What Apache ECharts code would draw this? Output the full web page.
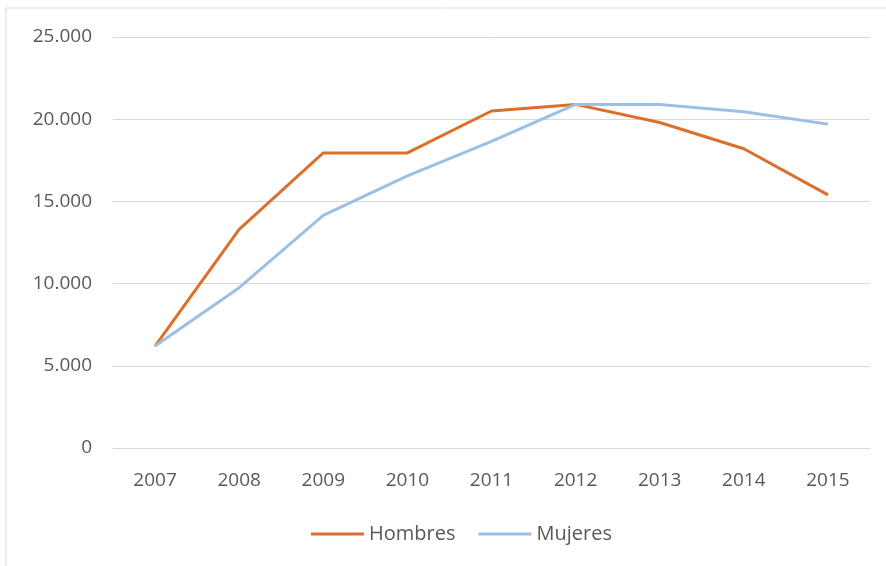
<!DOCTYPE html>
<html><head><meta charset="utf-8">
<script src="https://cdn.jsdelivr.net/npm/echarts@6/dist/echarts.min.js"></script>
<style>html,body{margin:0;padding:0;background:#fff}#c{width:886px;height:566px}</style>
</head><body><div id="c"></div>
<script>
const categories = ['2007','2008','2009','2010','2011','2012','2013','2014','2015'];
const hombres = [6200, 13300, 17950, 17950, 20500, 20900, 19800, 18200, 15400];
const mujeres = [6200, 9750, 14150, 16550, 18650, 20900, 20900, 20450, 19700];
const yTicks = [0, 5000, 10000, 15000, 20000, 25000];

const chart = echarts.init(document.getElementById('c'), null, {renderer:'canvas'});
const fmt = v => String(v).replace(/\B(?=(\d{3})+(?!\d))/g, '.');
chart.setOption({
  animation:false,
  graphic:[{type:'rect',shape:{x:6,y:8,width:900,height:600},style:{fill:'none',stroke:'#D9D9D9',lineWidth:1}}],
  grid:{left:113,right:16,top:37,bottom:118},
  legend:{top:519,left:306,itemWidth:53,itemHeight:3,itemGap:23,icon:'rect',
    textStyle:{color:'#595959',fontSize:20,fontFamily:'Open Sans',padding:[0,0,0,0]},
    data:['Hombres','Mujeres']},
  xAxis:{type:'category',data:categories,boundaryGap:true,
    axisLine:{show:true,lineStyle:{color:'#D9D9D9'}},axisTick:{show:false},
    axisLabel:{color:'#595959',fontSize:19,fontFamily:'Open Sans',margin:23}},
  yAxis:{type:'value',min:0,max:25000,interval:5000,
    axisLine:{show:false},axisTick:{show:false},
    splitLine:{lineStyle:{color:'#D9D9D9',width:1}},
    axisLabel:{color:'#595959',fontSize:19,fontFamily:'Open Sans',margin:21,
      formatter:v=>yTicks.includes(v)?fmt(v):''}},
  series:[
    {name:'Hombres',type:'line',data:hombres,symbol:'none',lineStyle:{width:3,color:'#D9702C'},itemStyle:{color:'#D9702C'}},
    {name:'Mujeres',type:'line',data:mujeres,symbol:'none',lineStyle:{width:3,color:'#9DBFE6'},itemStyle:{color:'#9DBFE6'}}
  ]
});
</script></body></html>
